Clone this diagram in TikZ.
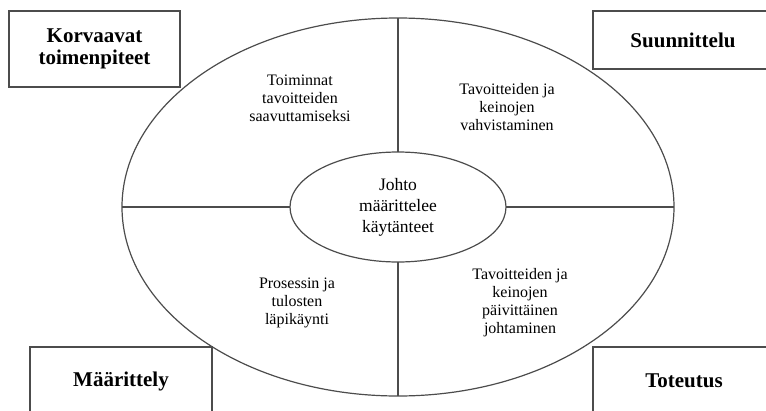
\documentclass[tikz,border=0pt]{standalone}
\usepackage{fontspec}
\setmainfont{Liberation Serif}
\usetikzlibrary{shapes.geometric}
\tikzset{
  viiva/.style={draw=black!70, line width=1.2pt},
  laatikko/.style={viiva, rectangle, inner sep=0pt, align=center, font=\fontsize{21}{22}\selectfont\bfseries},
  teksti/.style={align=center, font=\fontsize{16}{18}\selectfont}
}
\begin{document}
\begin{tikzpicture}[x=1pt,y=-1pt]
   \useasboundingbox (0,0) rectangle (766,410);
   \clip (0,0) rectangle (766,410);
   \node[ellipse, viiva, minimum width=552pt, minimum height=378pt, inner sep=0pt, outer sep=0pt] (ulko) at (398,207) {};
   \node[ellipse, viiva, teksti, font=\fontsize{17.5}{21}\selectfont, minimum width=216pt, minimum height=110pt, inner sep=0pt, outer sep=0pt] (johto) at (398,207) {Johto\\määrittelee\\käytänteet};
   \draw[viiva] (johto.north) -- (ulko.north);
   \draw[viiva] (johto.south) -- (ulko.south);
   \draw[viiva] (johto.west) -- (ulko.west);
   \draw[viiva] (johto.east) -- (ulko.east);
   \node[teksti] (toiminnat) at (300,98) {Toiminnat\\tavoitteiden\\saavuttamiseksi};
   \node[teksti] (vahvistus) at (507,107) {Tavoitteiden ja\\keinojen\\vahvistaminen};
   \node[teksti] (lapikaynti) at (297,303) {Prosessin ja\\tulosten\\läpikäynti};
   \node[teksti] (paivittainen) at (520,303) {Tavoitteiden ja\\keinojen\\päivittäinen\\johtaminen};
   \node[laatikko, minimum width=171pt, minimum height=76pt] (korvaavat) at (94.5,49) {Korvaavat\\toimenpiteet};
   \node[laatikko, minimum width=180pt, minimum height=58pt] (suunnittelu) at (683,40) {Suunnittelu};
   \node[laatikko, minimum width=182pt, minimum height=68pt] (maarittely) at (121,381) {Määrittely};
   \node[laatikko, minimum width=182pt, minimum height=68pt] (toteutus) at (684,381) {Toteutus};
\end{tikzpicture}
\end{document}
